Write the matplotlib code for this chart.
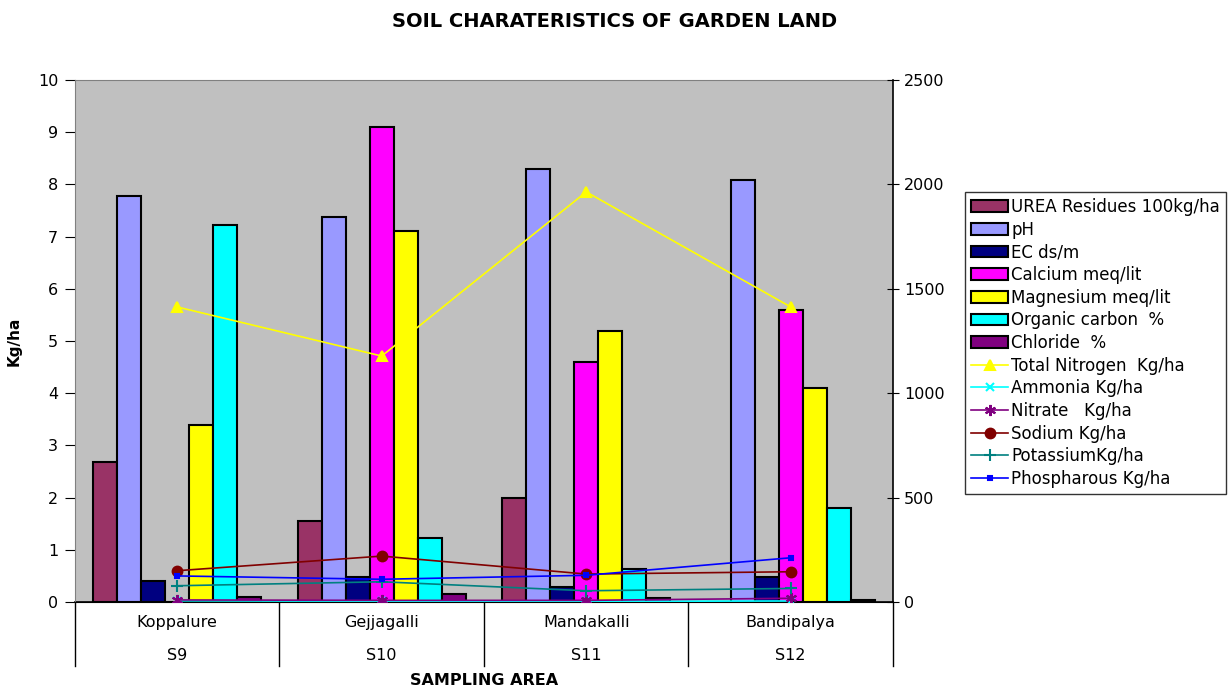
import numpy as np
import matplotlib
matplotlib.use('Agg')
import matplotlib.pyplot as plt
from matplotlib.transforms import blended_transform_factory

plt.rcParams['font.family'] = ['DejaVu Sans']

areas = ['Koppalure', 'Gejjagalli', 'Mandakalli', 'Bandipalya']
codes = ['S9', 'S10', 'S11', 'S12']

# bars (left axis)
bar_names = ['UREA Residues 100kg/ha', 'pH', 'EC ds/m', 'Calcium meq/lit',
             'Magnesium meq/lit', 'Organic carbon  %', 'Chloride  %']
urea = [2.68, 1.55, 2.0, 0.0]
ph = [7.78, 7.38, 8.3, 8.08]
ec = [0.41, 0.48, 0.29, 0.48]
calcium = [0.0, 9.1, 4.6, 5.6]
magnesium = [3.4, 7.1, 5.2, 4.1]
org_carbon = [7.22, 1.22, 0.63, 1.8]
chloride = [0.1, 0.15, 0.07, 0.03]
bar_colors = ['#993366', '#9999FF', '#000080', '#FF00FF', '#FFFF00', '#00FFFF', '#800080']

# lines (right axis)
line_names = ['Total Nitrogen  Kg/ha', 'Ammonia Kg/ha', 'Nitrate   Kg/ha',
              'Sodium Kg/ha', 'PotassiumKg/ha', 'Phospharous Kg/ha']
nitrogen = [1413, 1178, 1964, 1413]
ammonia = [6, 4, 3, 5]
nitrate = [10, 8, 8, 18]
sodium = [150, 220, 134, 145]
potassium = [78, 97, 54, 65]
phosphorus = [125, 109, 128, 212]
line_colors = ['#FFFF00', '#00FFFF', '#800080', '#800000', '#008080', '#0000FF']
line_markers = ['^', 'x', (6, 2, 0), 'o', '+', 's']
line_msize = [7, 6, 8, 7, 8, 3]

fig = plt.figure(figsize=(12.29, 6.86), dpi=100)
ax = fig.add_axes([0.061, 0.1224, 0.6656, 0.761])
ax.set_facecolor('#C0C0C0')

x = np.arange(len(areas))
bars = [urea, ph, ec, calcium, magnesium, org_carbon, chloride]
n = len(bars)
w = 1.0 / (n + 1.5)
handles = []
for i, (vals, name, col) in enumerate(zip(bars, bar_names, bar_colors)):
    h = ax.bar(x - 0.5 + 0.75 * w + (i + 0.5) * w, vals, w, color=col,
               edgecolor='black', linewidth=1.5, label=name, zorder=2)
    handles.append(h)

ax.set_xlim(-0.5, len(areas) - 0.5)
ax.set_ylim(0, 10)
ax.set_yticks(range(0, 11))
ax.set_xticks([])
ax.tick_params(axis='y', labelsize=11.5, direction='out', length=7, pad=5)
ax.set_ylabel('Kg/ha', fontsize=11, fontweight='bold', labelpad=12)
for s in ['left', 'top']:
    ax.spines[s].set_color('#808080')
ax.spines['right'].set_visible(False)
ax.spines['bottom'].set_color('black')

ax2 = ax.twinx()
series = [nitrogen, ammonia, nitrate, sodium, potassium, phosphorus]
for vals, name, col, m, ms in zip(series, line_names, line_colors, line_markers, line_msize):
    h, = ax2.plot(x, vals, color=col, marker=m, markersize=ms, linewidth=1.2,
                  markeredgewidth=1.5, label=name, zorder=3)
    handles.append(h)
ax2.set_ylim(0, 2500)
ax2.set_yticks(range(0, 2501, 500))
ax2.tick_params(axis='y', labelsize=11.5, direction='inout', length=8, pad=4)
ax2.spines['right'].set_color('black')
ax2.spines['right'].set_linewidth(1.2)
for s in ['left', 'top', 'bottom']:
    ax2.spines[s].set_visible(False)

# two-level category axis
tr = blended_transform_factory(ax.transData, ax.transAxes)
for i in x:
    ax.text(i, -0.04, areas[i], transform=tr, ha='center', va='center', fontsize=11.5)
    ax.text(i, -0.102, codes[i], transform=tr, ha='center', va='center', fontsize=11.5)
for b in np.arange(len(areas) + 1) - 0.5:
    ax.plot([b, b], [0, -0.122], transform=tr, color='black', linewidth=1, clip_on=False)
ax.plot([-0.5, len(areas) - 0.5], [0, 0], transform=tr, color='black', linewidth=1.2, clip_on=False)
ax.text(1.5, -0.15, 'SAMPLING AREA', transform=tr, ha='center', va='center',
        fontsize=11.5, fontweight='bold')

fig.suptitle('SOIL CHARATERISTICS OF GARDEN LAND', x=0.5, y=0.968, va='center',
             fontsize=14, fontweight='bold')

leg = fig.legend(handles=handles, loc='upper left', bbox_to_anchor=(0.7855, 0.72),
                 fontsize=12, frameon=True, fancybox=False, borderpad=0.35,
                 handlelength=2.2, handletextpad=0.2, labelspacing=0.28,
                 borderaxespad=0)
leg.get_frame().set_edgecolor('black')
leg.get_frame().set_linewidth(1)

fig.savefig('out.png', dpi=100)
